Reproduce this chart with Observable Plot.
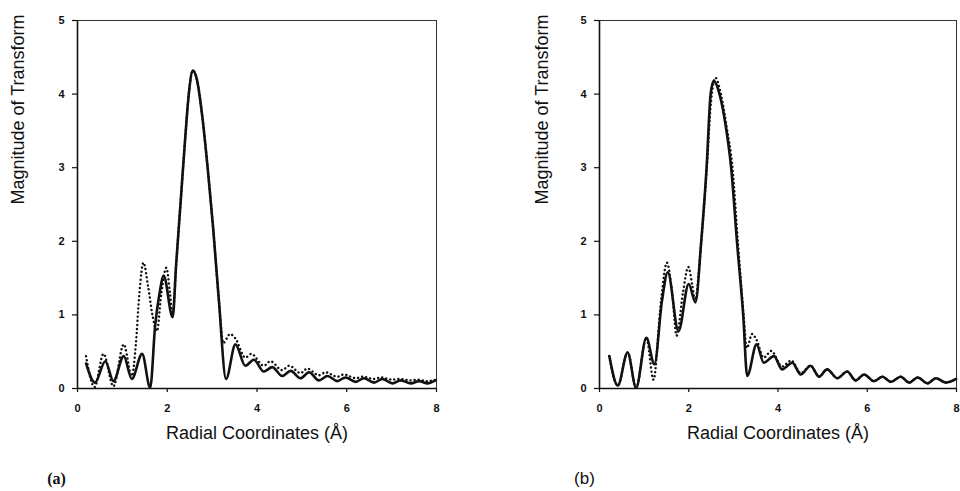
<!DOCTYPE html>
<html>
<head>
<meta charset="utf-8">
<script src="https://cdn.jsdelivr.net/npm/d3@7"></script>
<script src="https://cdn.jsdelivr.net/npm/@observablehq/plot@0.6"></script>
<style>
  html, body { margin: 0; padding: 0; background: #fff; }
  #row { display: flex; width: 960px; height: 491px; }
</style>
</head>
<body>
<div id="row"></div>
<script>
// ---- Data ----
const xTicks = [0, 2, 4, 6, 8];
const yTicks = [0, 1, 2, 3, 4, 5];
const xLabel = "Radial Coordinates (Å)";
const yLabel = "Magnitude of Transform";
const panelLabels = ["(a)", "(b)"];

// Panel (a): solid (experimental) curve
const rSolidA = [0.19,0.39,0.62,0.80,1.03,1.21,1.44,1.62,1.73,1.83,1.92,2.12,2.2,2.3,2.4,2.48,2.57,2.66,2.78,2.9,3.02,3.15,3.31,3.52,3.74,3.93,4.15,4.34,4.56,4.75,4.97,5.16,5.38,5.57,5.79,5.97,6.20,6.38,6.61,6.79,7.02,7.20,7.43,7.61,7.80,7.98];
const mSolidA = [0.34,0.08,0.37,0.10,0.44,0.13,0.47,0.01,0.85,1.30,1.53,0.97,1.7,2.55,3.4,4.0,4.32,4.2,3.7,3.0,2.2,1.2,0.13,0.60,0.31,0.39,0.23,0.29,0.17,0.24,0.14,0.22,0.11,0.17,0.10,0.15,0.09,0.14,0.08,0.13,0.07,0.11,0.07,0.10,0.07,0.11];
// Panel (a): dotted (fit) curve
const rDotA = [0.19,0.38,0.58,0.80,1.03,1.21,1.30,1.38,1.47,1.57,1.67,1.77,1.87,1.98,2.06,2.12,2.2,2.3,2.4,2.48,2.57,2.66,2.78,2.9,3.02,3.15,3.25,3.40,3.52,3.74,3.87,4.15,4.30,4.56,4.72,4.97,5.12,5.38,5.53,5.79,5.93,6.20,6.35,6.61,6.76,7.02,7.17,7.43,7.58,7.80,7.98];
const mDotA = [0.44,0.02,0.47,0.03,0.60,0.17,0.60,1.30,1.71,1.40,1.00,0.78,1.30,1.64,1.30,1.00,1.7,2.55,3.4,4.0,4.32,4.2,3.7,3.0,2.2,1.2,0.62,0.74,0.68,0.42,0.47,0.31,0.37,0.25,0.31,0.21,0.27,0.18,0.22,0.16,0.19,0.14,0.16,0.13,0.15,0.12,0.13,0.11,0.12,0.10,0.12];

// Panel (b): solid curve
const rSolidB = [0.22,0.41,0.63,0.82,1.05,1.23,1.40,1.53,1.77,2.0,2.15,2.28,2.40,2.49,2.56,2.69,2.82,2.95,3.08,3.22,3.31,3.52,3.68,3.91,4.09,4.32,4.51,4.73,4.92,5.10,5.33,5.55,5.74,5.93,6.15,6.34,6.53,6.75,6.94,7.13,7.35,7.54,7.76,7.99];
const mSolidB = [0.44,0.04,0.49,0.01,0.69,0.33,1.19,1.58,0.78,1.42,1.17,2.0,3.0,4.0,4.18,4.0,3.6,3.0,2.0,1.0,0.17,0.60,0.35,0.44,0.26,0.35,0.19,0.31,0.16,0.26,0.14,0.23,0.11,0.19,0.10,0.16,0.09,0.16,0.08,0.15,0.07,0.14,0.08,0.13];
// Panel (b): dotted curve
const rDotB = [0.22,0.41,0.63,0.82,1.05,1.21,1.38,1.51,1.62,1.73,1.87,1.99,2.08,2.14,2.28,2.40,2.50,2.60,2.72,2.85,2.98,3.10,3.23,3.30,3.42,3.52,3.68,3.85,4.09,4.30,4.51,4.73,4.92,5.10,5.33,5.55,5.74,5.93,6.15,6.34,6.53,6.75,6.94,7.13,7.35,7.54,7.76,7.99];
const mDotB = [0.44,0.04,0.49,0.01,0.69,0.12,1.20,1.71,1.35,0.72,1.30,1.65,1.40,1.20,2.0,2.95,3.9,4.22,4.0,3.55,3.0,2.0,1.0,0.55,0.74,0.66,0.42,0.51,0.30,0.38,0.21,0.31,0.16,0.26,0.14,0.23,0.11,0.19,0.10,0.16,0.09,0.16,0.08,0.15,0.07,0.14,0.08,0.13];

const zip = (r, m) => r.map((v, i) => ({r: v, m: m[i]}));

function panel({solid, dotted, label, marginLeft, marginRight, yLabelDx, labelDx, labelFont, labelWeight, labelSize}) {
  return Plot.plot({
    width: 480,
    height: 491,
    marginLeft, marginRight,
    marginTop: 20,
    marginBottom: 103,
    style: {fontFamily: "'Liberation Sans', Arial, sans-serif", fontSize: "11px", fontWeight: "bold", color: "#111", background: "#fff"},
    x: {domain: [0, 8], axis: null},
    y: {domain: [0, 5], axis: null},
    marks: [
      Plot.frame({stroke: "#333", strokeWidth: 1}),
      Plot.axisX({ticks: xTicks, tickFormat: d3.format("d"), tickSize: 4, tickPadding: 12, label: null, stroke: "#111", strokeWidth: 1.2}),
      Plot.axisY({ticks: yTicks, tickFormat: d3.format("d"), tickSize: 5, tickPadding: 8, label: null, stroke: "#111", strokeWidth: 1.2}),
      Plot.ruleX([0], {stroke: "#111", strokeWidth: 1.6}),
      Plot.ruleY([0], {stroke: "#111", strokeWidth: 1.6}),
      Plot.line(dotted, {x: "r", y: "m", curve: "monotone-x", stroke: "#111", strokeWidth: 2.4, strokeDasharray: "0.1,4", strokeLinecap: "round"}),
      Plot.line(solid, {x: "r", y: "m", curve: "monotone-x", stroke: "#111", strokeWidth: 2.6, strokeLinejoin: "round"}),
      Plot.text([yLabel], {frameAnchor: "left", dx: yLabelDx, rotate: -90, fontSize: 18, fontWeight: "normal", fill: "#111"}),
      Plot.text([xLabel], {frameAnchor: "bottom", dy: 50, fontSize: 18, fontWeight: "normal", fill: "#111"}),
      Plot.text([label], {frameAnchor: "bottom-left", dx: labelDx, dy: 95, textAnchor: "middle", fontSize: labelSize, fontWeight: labelWeight, fontFamily: labelFont, fill: "#111"})
    ]
  });
}

const row = document.getElementById("row");
row.append(panel({
  solid: zip(rSolidA, mSolidA), dotted: zip(rDotA, mDotA), label: panelLabels[0],
  marginLeft: 77, marginRight: 44, yLabelDx: -59, labelDx: -21,
  labelFont: "'Liberation Serif', 'Times New Roman', serif", labelWeight: "bold", labelSize: 16
}));
row.append(panel({
  solid: zip(rSolidB, mSolidB), dotted: zip(rDotB, mDotB), label: panelLabels[1],
  marginLeft: 119, marginRight: 4, yLabelDx: -57, labelDx: -15,
  labelFont: "'Liberation Sans', Arial, sans-serif", labelWeight: "normal", labelSize: 17
}));
</script>
</body>
</html>
